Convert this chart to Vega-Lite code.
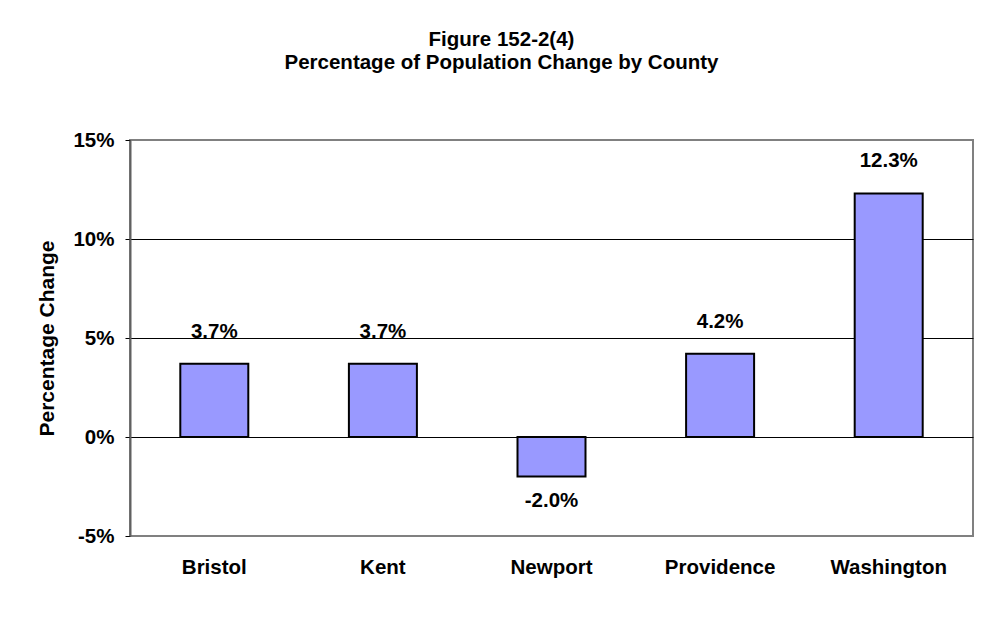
{
  "$schema": "https://vega.github.io/schema/vega-lite/v6.json",
  "width": 843,
  "height": 396,
  "autosize": {"type": "none"},
  "padding": {"left": 130, "top": 140, "right": 8, "bottom": 96},
  "background": "white",
  "config": {
    "font": "Liberation Sans",
    "view": {"stroke": "#808080", "strokeWidth": 2},
    "locale": {
      "number": {
        "decimal": ".",
        "thousands": ",",
        "grouping": [3],
        "currency": ["$", ""],
        "minus": "-"
      }
    }
  },
  "title": {
    "text": ["Figure 152-2(4)", "Percentage of Population Change by County"],
    "font": "Liberation Sans",
    "fontSize": 20.5,
    "fontWeight": "bold",
    "lineHeight": 23,
    "color": "black",
    "anchor": "middle",
    "offset": 57,
    "dx": -50
  },
  "data": {
    "values": [
      {"county": "Bristol", "change": 0.037},
      {"county": "Kent", "change": 0.037},
      {"county": "Newport", "change": -0.02},
      {"county": "Providence", "change": 0.042},
      {"county": "Washington", "change": 0.123}
    ]
  },
  "encoding": {
    "x": {
      "field": "county",
      "type": "nominal",
      "sort": null,
      "scale": {"paddingInner": 0, "paddingOuter": 0},
      "axis": {
        "title": null,
        "labelAngle": 0,
        "labelFontSize": 20.5,
        "labelFontWeight": "bold",
        "labelColor": "black",
        "ticks": false,
        "domain": false,
        "labelPadding": 21
      }
    },
    "y": {
      "field": "change",
      "type": "quantitative",
      "scale": {"domain": [-0.05, 0.15], "nice": false, "zero": false},
      "axis": {
        "values": [-0.05, 0, 0.05, 0.1, 0.15],
        "format": ".0%",
        "title": "Percentage Change",
        "titleFontSize": 21,
        "titleFontWeight": "bold",
        "titleColor": "black",
        "titlePadding": 15,
        "labelFontSize": 20.5,
        "labelFontWeight": "bold",
        "labelColor": "black",
        "labelPadding": 11,
        "tickSize": 5,
        "tickColor": "black",
        "domainColor": "#606060",
        "domainWidth": 2,
        "grid": true,
        "gridColor": {
          "condition": {"test": "datum.value > -0.04 && datum.value < 0.14", "value": "black"},
          "value": "transparent"
        },
        "gridWidth": 1
      }
    }
  },
  "layer": [
    {
      "mark": {"type": "bar", "width": 68, "fill": "#9999FF", "stroke": "black", "strokeWidth": 2},
      "encoding": {"y2": {"datum": 0}}
    },
    {
      "transform": [{"filter": "datum.change >= 0"}],
      "mark": {"type": "text", "baseline": "middle", "dy": -32, "fontSize": 20.5, "fontWeight": "bold", "color": "black"},
      "encoding": {"text": {"field": "change", "type": "quantitative", "format": ".1%"}}
    },
    {
      "transform": [{"filter": "datum.change < 0"}],
      "mark": {"type": "text", "baseline": "middle", "dy": 24, "fontSize": 20.5, "fontWeight": "bold", "color": "black"},
      "encoding": {"text": {"field": "change", "type": "quantitative", "format": ".1%"}}
    }
  ]
}
